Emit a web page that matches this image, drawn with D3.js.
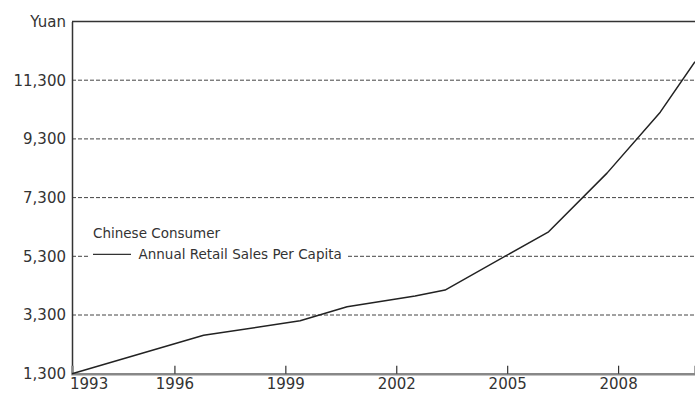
<!DOCTYPE html>
<html><head><meta charset="utf-8">
<script src="https://cdn.jsdelivr.net/npm/d3@7"></script>
<style>html,body{margin:0;padding:0;background:#fff;}svg{display:block;}</style>
</head><body>
<svg id="c" width="695" height="394"></svg>
<script>
// Data (x positions as fractional years)
const years = [1993.23, 1996.79, 1999.40, 2000.67, 2002.51, 2003.32, 2006.12, 2007.70, 2009.14, 2010.08];
const sales = [1300, 2607, 3105, 3581, 3946, 4150, 6135, 8134, 10211, 11930];
const xTicks = [1993, 1996, 1999, 2002, 2005, 2008];
const yTicks = [1300, 3300, 5300, 7300, 9300, 11300, 13300];
const yTickLabels = ["1,300", "3,300", "5,300", "7,300", "9,300", "11,300", "Yuan"];
const legendTitle = "Chinese Consumer";
const seriesName = "Annual Retail Sales Per Capita";

const svg = d3.select("#c");
const L = 72, R = 695, T = 21.5, B = 373.7;
const x = d3.scaleLinear().domain([years[0], years[years.length - 1]]).range([L, R]);
const y = d3.scaleLinear().domain([1300, 13300]).range([B, T]);
const font = "'DejaVu Sans', Verdana, sans-serif";

// gridlines (dashed) for inner ticks
svg.append("g").selectAll("line").data(yTicks.slice(1, -1)).join("line")
  .attr("x1", L).attr("x2", R).attr("y1", d => y(d)).attr("y2", d => y(d))
  .attr("stroke", "#444").attr("stroke-width", 1).attr("stroke-dasharray", "4,2");

// top border
svg.append("line").attr("x1", L).attr("x2", R).attr("y1", y(13300)).attr("y2", y(13300))
  .attr("stroke", "#333").attr("stroke-width", 1.5);

// y axis
const yAxis = d3.axisLeft(y).tickValues(yTicks).tickSize(0).tickPadding(6)
  .tickFormat((d, i) => yTickLabels[i]);
const gy = svg.append("g").attr("transform", `translate(${L},0)`).call(yAxis);
gy.select(".domain").attr("stroke", "#333").attr("stroke-width", 1.5);
gy.selectAll("text").attr("font-family", font).attr("font-size", 15).attr("fill", "#333");

// x axis
const xAxis = d3.axisBottom(x).tickValues(xTicks).tickSize(-8).tickPadding(5)
  .tickFormat(d3.format("d"));
const gx = svg.append("g").attr("transform", `translate(0,${B})`).call(xAxis);
gx.select(".domain").attr("stroke", "#888").attr("stroke-width", 2.5);
gx.selectAll(".tick line").attr("stroke", "#333").attr("stroke-width", 1.2);
gx.selectAll("text").attr("font-family", font).attr("font-size", 15).attr("fill", "#333").attr("dy", "0.71em");
// first label (outside domain) pinned at left edge
gx.selectAll(".tick").filter(d => d < years[0])
  .attr("transform", `translate(${L - 2},0)`)
  .call(g => { g.select("line").remove(); g.select("text").attr("text-anchor", "start"); });

// legend
const lg = svg.append("g");
lg.append("rect").attr("x", 88).attr("y", 222).attr("width", 260).attr("height", 42).attr("fill", "#fff");
lg.append("text").attr("x", 93).attr("y", 238).text(legendTitle)
  .attr("font-family", font).attr("font-size", 13.5).attr("fill", "#333");
lg.append("line").attr("x1", 93).attr("x2", 131).attr("y1", 254.3).attr("y2", 254.3)
  .attr("stroke", "#333").attr("stroke-width", 1.3);
lg.append("text").attr("x", 138.5).attr("y", 259).text(seriesName)
  .attr("font-family", font).attr("font-size", 13.5).attr("fill", "#333");

// series line
const line = d3.line().x((d, i) => x(years[i])).y(d => y(d));
svg.append("path").datum(sales).attr("d", line)
  .attr("fill", "none").attr("stroke", "#222").attr("stroke-width", 1.5).attr("stroke-linejoin", "round");
</script>
</body></html>
